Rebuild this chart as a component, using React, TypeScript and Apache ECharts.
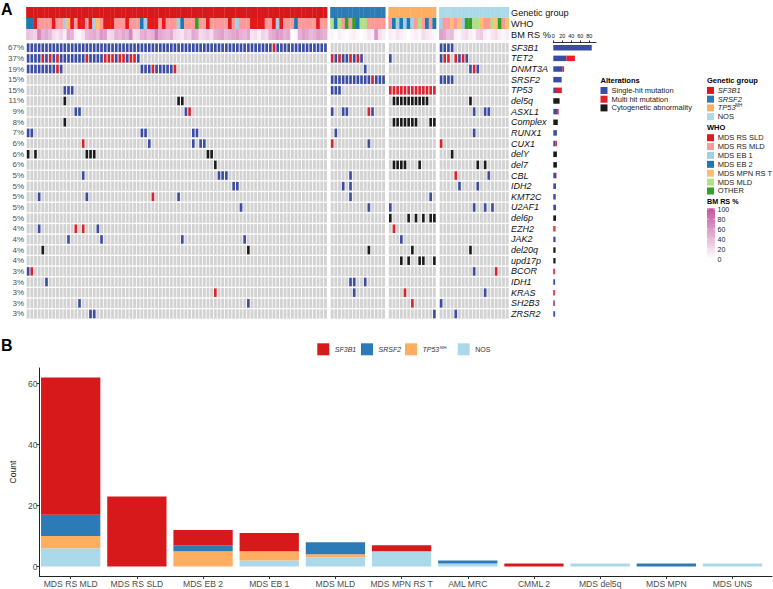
import React, { useEffect, useRef } from "react";
import * as echarts from "echarts";

const FONT = "'Liberation Sans', Arial, Helvetica, sans-serif";

// ---------------- Panel A data ----------------
const GROUPS = ["SF3B1", "SRSF2", "TP53", "NOS"];
const GROUP_SIZES = [82, 15, 13, 19];
const GROUP_COLORS = ["#d7191c", "#2c7bb6", "#fdae61", "#abd9e9"];
const GROUP_GAP = 0.84;

const WHO_NAMES = ["MDS RS SLD", "MDS RS MLD", "MDS EB 1", "MDS EB 2", "MDS MPN RS T", "MDS MLD", "OTHER"];
const WHO_KEYS = ["S", "M", "1", "2", "T", "L", "O"];
const WHO_COLORS = ["#e31a1c", "#fb9a99", "#a6cee3", "#1f78b4", "#fdbf6f", "#b2df8a", "#33a02c"];

const WHO_SF3B1 = "22SMMMMSMM1TSMSSMS1TMSSSMMMSMMM21SSSMSMMM12MMMOMMSMMMMMSM1MMMSSSSMMS1SMMM2MMMMMSMM";
const WHO_SRSF2 = "L2LMOMO2LLMMMMM";
const WHO_TP53 = "M212121MLM2M2";
const WHO_NOS = "1MMTMT1OOLLTMMLTOMT";

const BM_SF3B1 = [35, 30, 25, 70, 45, 50, 40, 20, 15, 25, 10, 50, 45, 10, 5, 15, 40, 45, 50, 40, 60, 55, 20, 25, 45, 40, 50, 45, 70, 20, 25, 45, 50, 40, 45, 75, 50, 45, 40, 50, 25, 20, 15, 30, 25, 50, 45, 20, 25, 30, 20, 45, 50, 55, 40, 45, 50, 55, 45, 40, 50, 15, 20, 10, 25, 20, 45, 50, 60, 55, 45, 50, 0, 5, 45, 55, 50, 40, 45, 55, 50, 45];
const BM_SRSF2 = [5, 0, 10, 5, 0, 5, 10, 5, 0, 5, 15, 10, 60, 20, 10];
const BM_TP53 = [10, 5, 15, 10, 5, 0, 5, 10, 5, 20, 15, 10, 5];
const BM_NOS = [55, 50, 35, 40, 10, 5, 15, 20, 10, 5, 25, 30, 10, 5, 15, 20, 10, 5, 10];

const ANNO_LABELS = ["Genetic group", "WHO", "BM RS %"];

const GENES = ["SF3B1", "TET2", "DNMT3A", "SRSF2", "TP53", "del5q", "ASXL1", "Complex", "RUNX1", "CUX1", "delY", "del7", "CBL", "IDH2", "KMT2C", "U2AF1", "del6p", "EZH2", "JAK2", "del20q", "upd17p", "BCOR", "IDH1", "KRAS", "SH2B3", "ZRSR2"];
const PCT_LABELS = ["67%", "37%", "19%", "15%", "15%", "11%", "9%", "8%", "7%", "6%", "6%", "6%", "5%", "5%", "5%", "5%", "5%", "4%", "4%", "4%", "4%", "3%", "3%", "3%", "3%", "3%"];

// alteration tokens per gene, column index within group: b = single hit, r = multi hit, k = cytogenetic
const ALT_SF3B1 = [
  "0-81b 67r", "0-30b 4r 6r 8r 16r 21r 22r 23r 25r 26r 28r 29r", "0-9b 8r 31-39b 34r 40r", "", "10-12b",
  "10k 41k 42k", "13b 14b 43b 44r", "10k", "0b 1b 31b 32b 45b 46b", "15r 33b 45b 47b 48b",
  "0k 2k 16-18k 49k 50k", "51k", "15b 52-54b", "56b 57b", "3b 16b 34r 41b", "58b", "",
  "3b 13r 15r 19b", "11b 20b 42b 59b", "4k 60k", "", "0b 1r", "5b", "51r", "14b 60b", "17b 18b",
];
const ALT_SRSF2 = [
  "", "0-8b 0r 2r 5r 7r", "9b", "0-14b 11r", "0-2b", "", "0b 3b 4b 10r 11b", "", "1b", "0r 10b",
  "", "", "5b", "3b 5b", "5b", "10b", "", "", "", "10k", "", "", "5b 6b 9b", "6b", "", "",
];
const ALT_TP53 = [
  "", "0b", "", "", "0-12r", "1-10k", "", "1-7k 11k 12k", "", "", "", "1-4k 8k", "", "", "11b", "0b",
  "0k 5k 7k 9k 11k 12k", "1r", "3b", "6k", "3k 5k 8k 9k 12k", "", "", "4r", "6r", "12b",
];
const ALT_NOS = [
  "0-3b", "0b 1r 2r 4r 5b 6r 7b", "8b 9r 10b", "0-3b", "", "8k", "9b 12b 13b", "", "9b", "0r", "3k",
  "10k 12k", "4r 13b", "5b 10b", "", "9b 12b 14b", "", "", "", "8k", "", "9b 15r", "", "12b", "0b", "4b",
];

const ALT_NAMES = ["Single-hit mutation", "Multi hit mutation", "Cytogenetic abnormality"];
const ALT_COLORS = ["#3a4ca5", "#e0202a", "#1a1a1a"];
const BG_GRAY = "#d2d2d2";

const SIDE_TICKS = [0, 20, 40, 60, 80];
const SIDE_MAX = 95;

const BM_LEGEND_TICKS = [100, 80, 60, 40, 20, 0];
const BM_TOP = [199, 81, 159];

// ---------------- Panel B data ----------------
const B_CATEGORIES = ["MDS RS MLD", "MDS RS SLD", "MDS EB 2", "MDS EB 1", "MDS MLD", "MDS MPN RS T", "AML MRC", "CMML 2", "MDS del5q", "MDS MPN", "MDS UNS"];
const B_SF3B1 = [45, 23, 5, 6, 0, 2, 0, 1, 0, 0, 0];
const B_SRSF2 = [7, 0, 2, 0, 4, 0, 1, 0, 0, 1, 0];
const B_TP53 = [4, 0, 5, 3, 1, 0, 0, 0, 0, 0, 0];
const B_NOS = [6, 0, 0, 2, 3, 5, 1, 0, 1, 0, 1];
const B_TICKS = [0, 20, 40, 60];
const B_YMIN = -3.1;
const B_YMAX = 65.1;

// ---------------- helpers ----------------
function parseAlt(str: string, n: number): number[] {
  const arr = new Array(n).fill(0);
  const codes: Record<string, number> = { b: 1, r: 2, k: 3 };
  str.split(/\s+/).filter(Boolean).forEach((tok) => {
    const m = tok.match(/^(\d+)(?:-(\d+))?([brk])$/);
    if (!m) return;
    const a = +m[1];
    const b = m[2] ? +m[2] : a;
    for (let i = a; i <= b; i++) arr[i] = codes[m[3]];
  });
  return arr;
}

function bmColor(v: number): string {
  const t = Math.max(0, Math.min(1, v / 100));
  const c = BM_TOP.map((x) => Math.round(255 + (x - 255) * t));
  return `rgb(${c[0]},${c[1]},${c[2]})`;
}

function buildOption() {
  const offsets: number[] = [];
  let acc = 0;
  GROUP_SIZES.forEach((s) => {
    offsets.push(acc);
    acc += s + GROUP_GAP;
  });
  const X_MAX = acc - GROUP_GAP;

  const whoStrings = [WHO_SF3B1, WHO_SRSF2, WHO_TP53, WHO_NOS];
  const bmArrays = [BM_SF3B1, BM_SRSF2, BM_TP53, BM_NOS];
  const altGroups = [ALT_SF3B1, ALT_SRSF2, ALT_TP53, ALT_NOS];

  const annoData: number[][] = [];
  const annoColors: string[] = [];
  const oncoData: number[][] = [];
  const counts = GENES.map(() => [0, 0, 0]);

  GROUPS.forEach((_, g) => {
    const n = GROUP_SIZES[g];
    const parsed = GENES.map((__, r) => parseAlt(altGroups[g][r] || "", n));
    for (let c = 0; c < n; c++) {
      const u = offsets[g] + c;
      annoData.push([u, 0]);
      annoColors.push(GROUP_COLORS[g]);
      annoData.push([u, 1]);
      annoColors.push(WHO_COLORS[WHO_KEYS.indexOf(whoStrings[g][c])]);
      annoData.push([u, 2]);
      annoColors.push(bmColor(bmArrays[g][c]));
      GENES.forEach((__, r) => {
        const t = parsed[r][c];
        oncoData.push([u, r, t]);
        if (t) counts[r][t - 1]++;
      });
    }
  });

  const graphic: any[] = [];
  const txt = (x: number, y: number, text: string, o: any = {}) => ({
    type: "text",
    x,
    y,
    silent: true,
    style: { text, fill: "#222", fontSize: 7.5, fontFamily: FONT, align: "left", verticalAlign: "middle", ...o },
  });
  const box = (x: number, y: number, w: number, h: number, fill: any) => ({
    type: "rect",
    silent: true,
    shape: { x, y, width: w, height: h },
    style: { fill },
  });

  graphic.push(txt(1, 9.5, "A", { fontSize: 16, fontWeight: "bold", fill: "#000" }));
  graphic.push(txt(1, 345, "B", { fontSize: 16, fontWeight: "bold", fill: "#000" }));

  // Alterations legend
  graphic.push(txt(600.5, 80.7, "Alterations", { fontWeight: "bold", fill: "#000" }));
  ALT_NAMES.forEach((nm, i) => {
    const cy = 90.5 + 8.7 * i;
    graphic.push(box(600.5, cy - 3.5, 7, 7, ALT_COLORS[i]));
    graphic.push(txt(611.5, cy, nm));
  });

  // Genetic group legend
  graphic.push(txt(707, 80.7, "Genetic group", { fontWeight: "bold", fill: "#000" }));
  GROUPS.forEach((nm, i) => {
    const cy = 90.4 + 8.75 * i;
    graphic.push(box(707, cy - 3.5, 7, 7, GROUP_COLORS[i]));
    if (nm === "NOS") {
      graphic.push(txt(717.7, cy, nm));
    } else {
      graphic.push(txt(717.7, cy, nm, { fontStyle: "italic" }));
      if (nm === "TP53") graphic.push(txt(735.2, cy - 2.3, "MH", { fontSize: 4.5 }));
    }
  });

  // WHO legend
  graphic.push(txt(707, 127.7, "WHO", { fontWeight: "bold", fill: "#000" }));
  WHO_NAMES.forEach((nm, i) => {
    const cy = 137.7 + 8.88 * i;
    graphic.push(box(707, cy - 3.5, 7, 7, WHO_COLORS[i]));
    graphic.push(txt(717.7, cy, nm));
  });

  // BM RS legend
  graphic.push(txt(707, 201.6, "BM RS %", { fontWeight: "bold", fill: "#000", fontSize: 7.2 }));
  graphic.push(
    box(
      707,
      208.3,
      8,
      50.5,
      new echarts.graphic.LinearGradient(0, 0, 0, 1, [
        { offset: 0, color: bmColor(100) },
        { offset: 1, color: bmColor(0) },
      ])
    )
  );
  BM_LEGEND_TICKS.forEach((v) => {
    const y = 209.3 + ((100 - v) / 100) * 49.7;
    graphic.push({ type: "line", silent: true, shape: { x1: 707, y1: y, x2: 708.6, y2: y }, style: { stroke: "#fff", lineWidth: 0.6 } });
    graphic.push({ type: "line", silent: true, shape: { x1: 713.4, y1: y, x2: 715, y2: y }, style: { stroke: "#fff", lineWidth: 0.6 } });
    graphic.push(txt(717.5, y, String(v), { fontSize: 7 }));
  });

  // Panel B legend
  const bLegend = [
    { name: "SF3B1", x: 317.3, italic: true },
    { name: "SRSF2", x: 361, italic: true },
    { name: "TP53", x: 405, italic: true, sup: "MH" },
    { name: "NOS", x: 457.7, italic: false },
  ];
  bLegend.forEach((it, i) => {
    graphic.push(box(it.x, 343.3, 12, 12, GROUP_COLORS[i]));
    graphic.push(txt(it.x + 17.5, 349.3, it.name, { fontSize: 7, fill: "#333", fontStyle: it.italic ? "italic" : "normal" }));
    if (it.sup) graphic.push(txt(it.x + 35, 347, it.sup, { fontSize: 4.2, fill: "#333" }));
  });

  const hiddenAxis = { show: false };

  const option: any = {
    animation: false,
    textStyle: { fontFamily: FONT },
    grid: [
      { left: 26.3, width: 482.7, top: 7, height: 33 },
      { left: 26.3, width: 482.7, top: 42.4, height: 276.9 },
      { left: 553.3, width: (SIDE_MAX * 36) / 80, top: 42.4, height: 276.9 },
      { left: 37.6, width: 728, top: 368, height: 208 },
      { left: 31, width: 741, top: 368, height: 208 },
    ],
    xAxis: [
      { gridIndex: 0, type: "value", min: 0, max: X_MAX, ...hiddenAxis },
      { gridIndex: 1, type: "value", min: 0, max: X_MAX, ...hiddenAxis },
      {
        gridIndex: 2,
        type: "value",
        min: 0,
        max: SIDE_MAX,
        position: "top",
        axisLine: { show: true, onZero: false, lineStyle: { color: "#000", width: 0.8 } },
        axisTick: { show: true, length: 2, customValues: SIDE_TICKS, lineStyle: { color: "#000", width: 0.8 } },
        axisLabel: { customValues: SIDE_TICKS, fontSize: 5.5, margin: 3, color: "#111", showMinLabel: true, showMaxLabel: true },
        splitLine: { show: false },
      },
      {
        gridIndex: 3,
        type: "category",
        data: B_CATEGORIES,
        axisLine: { show: false, onZero: false },
        axisTick: { show: true, alignWithLabel: true, length: 3, lineStyle: { color: "#333" } },
        axisLabel: { fontSize: 8.6, color: "#4d4d4d", margin: 3.5, interval: 0 },
      },
      {
        gridIndex: 4,
        type: "value",
        min: 0,
        max: 1,
        axisLine: { show: true, onZero: false, lineStyle: { color: "#222", width: 1 } },
        axisTick: { show: false },
        axisLabel: { show: false },
        splitLine: { show: false },
      },
    ],
    yAxis: [
      {
        gridIndex: 0,
        type: "category",
        data: ANNO_LABELS,
        inverse: true,
        position: "right",
        axisLine: { show: false },
        axisTick: { show: false },
        axisLabel: { fontSize: 9.2, color: "#111", margin: 2, interval: 0 },
      },
      {
        gridIndex: 1,
        type: "category",
        data: GENES,
        inverse: true,
        position: "left",
        axisLine: { show: false },
        axisTick: { show: false },
        axisLabel: { fontSize: 8, color: "#4d4d4d", margin: 2.3, interval: 0, formatter: (_v: string, i: number) => PCT_LABELS[i] },
      },
      {
        gridIndex: 1,
        type: "category",
        data: GENES,
        inverse: true,
        position: "right",
        axisLine: { show: false },
        axisTick: { show: false },
        axisLabel: { fontSize: 9, fontStyle: "italic", color: "#111", margin: 2, interval: 0 },
      },
      { gridIndex: 2, type: "category", data: GENES, inverse: true, show: false },
      { gridIndex: 3, type: "value", min: B_YMIN, max: B_YMAX, show: false },
      {
        gridIndex: 4,
        type: "value",
        min: B_YMIN,
        max: B_YMAX,
        axisLine: { show: true, onZero: false, lineStyle: { color: "#222", width: 1 } },
        axisTick: { show: true, length: 3, customValues: B_TICKS, lineStyle: { color: "#333" } },
        axisLabel: { customValues: B_TICKS, fontSize: 8.6, color: "#4d4d4d", margin: 2 },
        splitLine: { show: false },
        name: "Count",
        nameLocation: "middle",
        nameGap: 18,
        nameRotate: 90,
        nameTextStyle: { fontSize: 8.6, color: "#222" },
      },
    ],
    series: [
      {
        type: "custom",
        xAxisIndex: 0,
        yAxisIndex: 0,
        data: annoData,
        silent: true,
        renderItem: (params: any, api: any) => {
          const u = api.value(0);
          const r = api.value(1);
          const p = api.coord([u, r]);
          const s = api.size([1, 1]);
          return {
            type: "rect",
            shape: { x: p[0] - 0.15, y: p[1] - s[1] / 2, width: s[0] + 0.3, height: s[1] + (r < 2 ? 0.3 : 0) },
            style: { fill: annoColors[params.dataIndex] },
          };
        },
      },
      {
        type: "custom",
        xAxisIndex: 1,
        yAxisIndex: 1,
        data: oncoData,
        silent: true,
        renderItem: (_params: any, api: any) => {
          const u = api.value(0);
          const r = api.value(1);
          const t = api.value(2);
          const p = api.coord([u, r]);
          const s = api.size([1, 1]);
          const children: any[] = [
            {
              type: "rect",
              shape: { x: p[0] + 0.4, y: p[1] - s[1] / 2 + 0.65, width: s[0] - 0.8, height: s[1] - 1.3 },
              style: { fill: BG_GRAY },
            },
          ];
          if (t) {
            children.push({
              type: "rect",
              shape: { x: p[0] + s[0] * 0.15, y: p[1] - s[1] / 2 + 1.1, width: s[0] * 0.7, height: s[1] - 2.2 },
              style: { fill: ALT_COLORS[t - 1] },
            });
          }
          return { type: "group", children };
        },
      },
      ...ALT_NAMES.map((nm, i) => ({
        name: nm,
        type: "bar",
        xAxisIndex: 2,
        yAxisIndex: 3,
        stack: "side",
        barWidth: 5.5,
        silent: true,
        itemStyle: { color: ALT_COLORS[i] },
        data: counts.map((c) => c[i]),
      })),
      ...[
        { name: "NOS", data: B_NOS, color: GROUP_COLORS[3] },
        { name: "TP53", data: B_TP53, color: GROUP_COLORS[2] },
        { name: "SRSF2", data: B_SRSF2, color: GROUP_COLORS[1] },
        { name: "SF3B1", data: B_SF3B1, color: GROUP_COLORS[0] },
      ].map((s) => ({
        name: s.name,
        type: "bar",
        xAxisIndex: 3,
        yAxisIndex: 4,
        stack: "b",
        barCategoryGap: "10.4%",
        silent: true,
        itemStyle: { color: s.color },
        data: s.data,
      })),
    ],
    graphic,
  };
  return option;
}

export default function App() {
  const ref = useRef<HTMLDivElement>(null);
  useEffect(() => {
    if (!ref.current) return;
    const chart = echarts.init(ref.current, null, { renderer: "svg" });
    chart.setOption(buildOption());
    return () => chart.dispose();
  }, []);
  return <div ref={ref} style={{ position: "fixed", left: 0, top: 0, width: 773, height: 589, background: "#fff" }} />;
}
